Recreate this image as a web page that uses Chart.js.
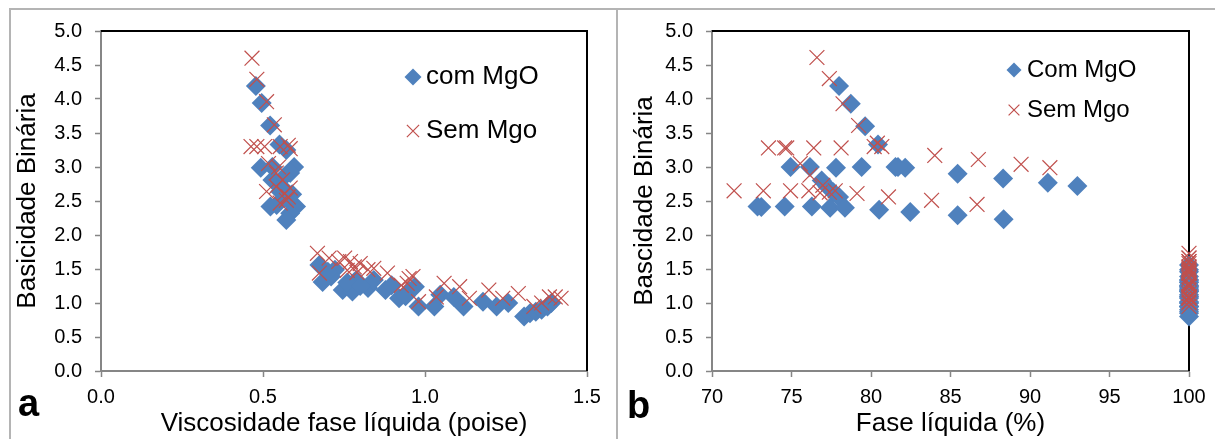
<!DOCTYPE html>
<html>
<head>
<meta charset="utf-8">
<script src="https://cdn.jsdelivr.net/npm/chart.js@4/dist/chart.umd.min.js"></script>
<style>
  body { margin: 0; background: #fff; }
  #wrap { position: relative; width: 1215px; height: 439px; overflow: hidden; background: #fff; }
  .frame { position: absolute; background: #b4b4b4; }
  canvas { position: absolute; top: 0; }
</style>
</head>
<body>
<div id="wrap">
  <canvas id="chartA" width="617" height="439" style="left:0"></canvas>
  <canvas id="chartB" width="598" height="439" style="left:617px"></canvas>
  <div class="frame" style="left:9px; top:8px; width:1206px; height:2px"></div>
  <div class="frame" style="left:9px; top:8px; width:2px; height:431px"></div>
  <div class="frame" style="left:616px; top:8px; width:2px; height:431px"></div>
</div>
<script>
// panel a: viscosidade da fase liquida (poise) vs basicidade binaria
const viscComX = [0.478, 0.496, 0.522, 0.551, 0.572, 0.493, 0.529, 0.596, 0.584, 0.529, 0.566, 0.553, 0.523, 0.542, 0.602, 0.584, 0.572, 0.578, 0.560, 0.590,
  0.674, 0.684, 0.722, 0.710, 0.746, 0.776, 0.788, 0.824, 0.842, 0.878, 0.897, 0.920, 0.951, 0.969, 0.980, 1.029, 1.047, 1.089, 1.119, 1.179, 1.221, 1.257,
  1.306, 1.324, 1.342, 1.360, 1.378, 1.390, 0.700, 0.760, 0.800, 0.940];
const viscComY = [4.19, 3.94, 3.61, 3.33, 3.25, 2.99, 3.00, 3.00, 2.91, 2.81, 2.86, 2.64, 2.42, 2.44, 2.42, 2.32, 2.22, 2.51, 2.70, 2.60,
  1.56, 1.31, 1.49, 1.39, 1.19, 1.17, 1.34, 1.22, 1.34, 1.19, 1.26, 1.07, 1.17, 1.24, 0.95, 0.95, 1.12, 1.09, 0.95, 1.02, 0.95, 1.00,
  0.80, 0.85, 0.87, 0.90, 0.95, 1.00, 1.46, 1.30, 1.25, 1.10];
const viscSemX = [0.466, 0.481, 0.511, 0.535, 0.463, 0.481, 0.505, 0.553, 0.578, 0.584, 0.517, 0.548, 0.541, 0.560, 0.511, 0.541, 0.566, 0.584, 0.578, 0.553, 0.572,
  0.668, 0.704, 0.734, 0.752, 0.770, 0.782, 0.800, 0.824, 0.842, 0.884, 0.927, 0.951, 0.963, 0.945, 0.980, 1.035, 1.059, 1.107, 1.137, 1.197, 1.240, 1.288,
  1.336, 1.360, 1.384, 1.402, 1.420, 0.674, 0.760, 0.790];
const viscSemY = [4.60, 4.29, 3.96, 3.62, 3.30, 3.30, 3.30, 3.30, 3.32, 3.27, 3.05, 3.00, 2.91, 2.81, 2.64, 2.71, 2.61, 2.69, 2.56, 2.47, 2.51,
  1.73, 1.66, 1.61, 1.66, 1.61, 1.53, 1.58, 1.49, 1.51, 1.44, 1.26, 1.36, 1.39, 1.29, 1.02, 1.09, 1.29, 1.24, 1.07, 1.19, 1.07, 1.14,
  0.95, 1.00, 1.09, 1.09, 1.07, 1.44, 1.48, 1.45];

// panel b: fase liquida (%) vs basicidade binaria
const faseComX = [77.99, 78.73, 79.63, 80.44, 74.94, 76.16, 77.80, 79.41, 81.54, 82.15, 85.45, 88.31, 91.12, 92.98, 76.90, 77.26, 77.63, 77.99,
  72.86, 74.57, 76.28, 77.43, 78.36, 80.51, 82.47, 85.45, 88.34, 73.10, 81.70];
const faseComY = [4.19, 3.93, 3.60, 3.33, 3.00, 3.00, 2.99, 3.00, 3.00, 2.99, 2.90, 2.83, 2.77, 2.72, 2.80, 2.71, 2.63, 2.56,
  2.42, 2.42, 2.42, 2.40, 2.40, 2.37, 2.34, 2.29, 2.23, 2.41, 3.00];
const faseSemX = [76.60, 77.38, 78.24, 79.22, 80.20, 80.68, 80.40, 73.55, 74.57, 74.70, 76.40, 78.12, 84.01, 86.75, 89.44, 91.25, 75.55, 76.16,
  71.39, 73.23, 74.94, 76.09, 76.97, 77.38, 77.75, 79.12, 81.10, 83.81, 86.67, 76.80];
const faseSemY = [4.61, 4.30, 3.93, 3.61, 3.30, 3.30, 3.35, 3.28, 3.28, 3.28, 3.28, 3.28, 3.17, 3.11, 3.04, 2.99, 3.05, 2.88,
  2.65, 2.65, 2.65, 2.65, 2.73, 2.63, 2.65, 2.61, 2.56, 2.51, 2.45, 2.62];
// points at 100 % liquid phase
const fullComY = [1.56, 1.31, 1.49, 1.39, 1.19, 1.17, 1.34, 1.22, 1.34, 1.19, 1.26, 1.07, 1.17, 1.24, 0.95, 0.95, 1.12, 1.09, 0.95, 1.02, 0.95, 1.00,
  0.80, 0.85, 0.87, 0.90, 0.95, 1.00, 1.46, 1.30, 1.25, 1.10];
const fullSemY = [1.73, 1.66, 1.61, 1.66, 1.61, 1.53, 1.58, 1.49, 1.51, 1.44, 1.26, 1.36, 1.39, 1.29, 1.02, 1.09, 1.29, 1.24, 1.07, 1.19, 1.07, 1.14,
  0.95, 1.00, 1.09, 1.09, 1.07, 1.44, 1.48, 1.45];

const yTicks = [0, 0.5, 1, 1.5, 2, 2.5, 3, 3.5, 4, 4.5, 5];

const BLUE = '#4f81bd';
const RED = '#c0504d';
const AXIS = '#868686';
const FONT = "'Liberation Sans', Arial, sans-serif";

const toPts = (xs, ys) => xs.map((x, i) => ({ x: x, y: ys[i] }));

function diamond(ctx, x, y, r) {
  ctx.beginPath();
  ctx.moveTo(x - r, y); ctx.lineTo(x, y - r); ctx.lineTo(x + r, y); ctx.lineTo(x, y + r);
  ctx.closePath();
  ctx.fillStyle = BLUE;
  ctx.fill();
}
function cross(ctx, x, y, h) {
  ctx.beginPath();
  ctx.moveTo(x - h, y - h); ctx.lineTo(x + h, y + h);
  ctx.moveTo(x - h, y + h); ctx.lineTo(x + h, y - h);
  ctx.strokeStyle = RED;
  ctx.lineWidth = 1.2;
  ctx.stroke();
}

// black top/right frame of plot area, drawn under the markers
const frameLines = {
  id: 'frameLines',
  beforeDatasetsDraw(chart) {
    const { ctx, chartArea: a } = chart;
    ctx.save();
    ctx.strokeStyle = '#000';
    ctx.lineWidth = 2;
    ctx.beginPath();
    ctx.moveTo(a.left, a.top);
    ctx.lineTo(a.right, a.top);
    ctx.lineTo(a.right, a.bottom);
    ctx.stroke();
    ctx.restore();
  }
};

// legend inside the plot + panel letter
const panelDeco = {
  id: 'panelDeco',
  afterDraw(chart, args, o) {
    const ctx = chart.ctx;
    ctx.save();
    diamond(ctx, o.mx, o.y1, o.mr);
    cross(ctx, o.mx, o.y2, o.mr * 0.72);
    ctx.fillStyle = '#000';
    ctx.font = o.fs + 'px ' + FONT;
    ctx.textBaseline = 'middle';
    ctx.fillText(o.t1, o.tx, o.y1);
    ctx.fillText(o.t2, o.tx, o.y2);
    ctx.font = 'bold 38px ' + FONT;
    ctx.textBaseline = 'alphabetic';
    ctx.fillText(o.letter, o.lx, o.ly);
    ctx.restore();
  }
};

function makeChart(id, cfg) {
  return new Chart(document.getElementById(id), {
    type: 'scatter',
    data: {
      datasets: [
        { label: cfg.t1, data: cfg.com, pointStyle: 'rectRot', pointRadius: 10, pointHoverRadius: 10,
          backgroundColor: BLUE, borderColor: BLUE, borderWidth: 0, order: 2, clip: false },
        { label: cfg.t2, data: cfg.sem, pointStyle: 'crossRot', pointRadius: 10.5, pointHoverRadius: 10.5,
          borderColor: RED, backgroundColor: RED, borderWidth: 1.2, order: 1, clip: false }
      ]
    },
    options: {
      responsive: false,
      animation: false,
      events: [],
      layout: { padding: { left: 0, top: 31, right: cfg.padRight, bottom: 0 } },
      plugins: {
        legend: { display: false },
        tooltip: { enabled: false },
        panelDeco: Object.assign({ t1: cfg.t1, t2: cfg.t2 }, cfg.deco)
      },
      scales: {
        x: {
          type: 'linear', min: cfg.xMin, max: cfg.xMax,
          afterFit: s => { s.height = 68; },
          afterBuildTicks: s => { s.ticks = cfg.xTicks.map(v => ({ value: v })); },
          grid: { drawOnChartArea: false, drawTicks: true, tickLength: 6, tickColor: AXIS, tickWidth: 1.5 },
          border: { color: AXIS, width: 2 },
          ticks: { color: '#000', font: { family: FONT, size: 20 }, padding: 8,
                   callback: v => cfg.xFmt(v) },
          title: { display: true, text: cfg.xTitle, color: '#000', font: { family: FONT, size: 26 },
                   padding: { top: 0, bottom: 0 } }
        },
        y: {
          type: 'linear', min: 0, max: 5,
          afterFit: s => { s.width = cfg.yWidth; },
          afterBuildTicks: s => { s.ticks = yTicks.map(v => ({ value: v })); },
          grid: { drawOnChartArea: false, drawTicks: true, tickLength: 6, tickColor: AXIS, tickWidth: 1.5 },
          border: { color: AXIS, width: 2 },
          ticks: { color: '#000', font: { family: FONT, size: 20 }, padding: 13,
                   callback: v => v.toFixed(1) },
          title: { display: true, text: cfg.yTitle, color: '#000', font: { family: FONT, size: 26 },
                   padding: { top: 12, bottom: 0 } }
        }
      }
    },
    plugins: [frameLines, panelDeco]
  });
}

makeChart('chartA', {
  com: toPts(viscComX, viscComY),
  sem: toPts(viscSemX, viscSemY),
  t1: 'com MgO', t2: 'Sem Mgo',
  xMin: 0, xMax: 1.5, xTicks: [0, 0.5, 1, 1.5], xFmt: v => v.toFixed(1),
  xTitle: 'Viscosidade fase líquida (poise)',
  yTitle: 'Basicidade Binária',
  yWidth: 101, padRight: 30,
  deco: { mx: 413, mr: 8.5, y1: 77, y2: 131, tx: 426, fs: 26, letter: 'a', lx: 18, ly: 416 }
});

makeChart('chartB', {
  com: toPts(faseComX, faseComY).concat(fullComY.map(y => ({ x: 100, y: y }))),
  sem: toPts(faseSemX, faseSemY).concat(fullSemY.map(y => ({ x: 100, y: y }))),
  t1: 'Com MgO', t2: 'Sem Mgo',
  xMin: 70, xMax: 100, xTicks: [70, 75, 80, 85, 90, 95, 100], xFmt: v => String(v),
  xTitle: 'Fase líquida (%)',
  yTitle: 'Bascidade Binária',
  yWidth: 95, padRight: 26,
  deco: { mx: 397, mr: 7.5, y1: 70, y2: 110, tx: 410, fs: 24, letter: 'b', lx: 10, ly: 418 }
});
</script>
</body>
</html>
